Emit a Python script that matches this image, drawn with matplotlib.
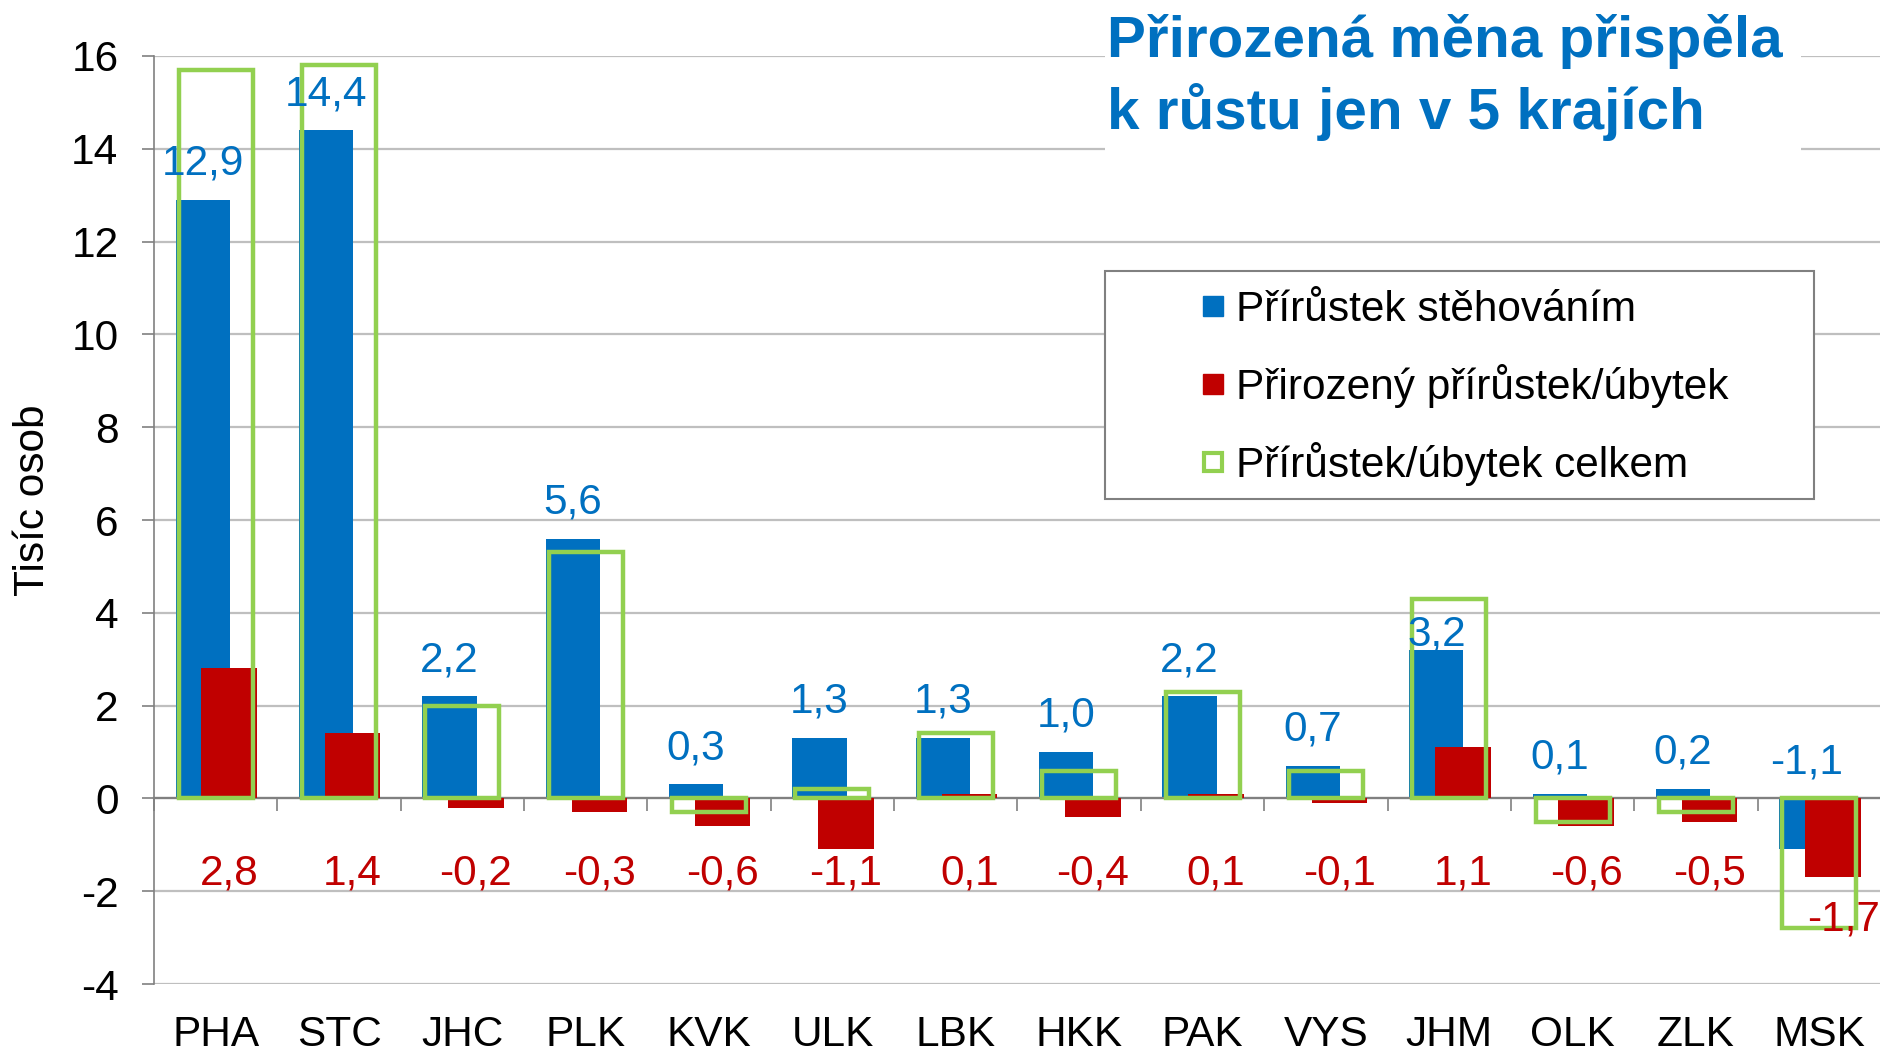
import matplotlib
matplotlib.use("Agg")
import matplotlib.pyplot as plt
from matplotlib.patches import Rectangle
from matplotlib.lines import Line2D
import numpy as np

plt.rcParams['font.family'] = ['Liberation Sans', 'DejaVu Sans']
plt.rcParams['axes.unicode_minus'] = False

# data (thousands of persons)
regions = ['PHA', 'STC', 'JHC', 'PLK', 'KVK', 'ULK', 'LBK', 'HKK', 'PAK', 'VYS', 'JHM', 'OLK', 'ZLK', 'MSK']
migration = [12.9, 14.4, 2.2, 5.6, 0.3, 1.3, 1.3, 1.0, 2.2, 0.7, 3.2, 0.1, 0.2, -1.1]
natural = [2.8, 1.4, -0.2, -0.3, -0.6, -1.1, 0.1, -0.4, 0.1, -0.1, 1.1, -0.6, -0.5, -1.7]
total = [15.7, 15.8, 2.0, 5.3, -0.3, 0.2, 1.4, 0.6, 2.3, 0.6, 4.3, -0.5, -0.3, -2.8]
series_names = ['Přírůstek stěhováním', 'Přirozený přírůstek/úbytek', 'Přírůstek/úbytek celkem']

BLUE = '#0070C0'
RED = '#C00000'
GREEN = '#92D050'
GRID = '#BFBFBF'
AXIS = '#808080'
FS = 30.5

W, H = 1881, 1052
fig = plt.figure(figsize=(W / 100, H / 100), dpi=100)
ax = fig.add_axes([154 / W, (H - 984) / H, (W - 154) / W, (984 - 56) / H])

x = np.arange(len(regions))
ax.bar(x - 0.105, migration, width=0.44, color=BLUE, zorder=2)
ax.bar(x + 0.11, natural, width=0.45, color=RED, zorder=3)
ax.bar(x, total, width=0.6, fill=False, edgecolor=GREEN, linewidth=3.2, zorder=4)

ax.set_xlim(-0.5, len(regions) - 0.5)
ax.set_ylim(-4, 16)
ax.set_yticks(range(-4, 17, 2))
ax.yaxis.grid(True, color=GRID, linewidth=1.6)
ax.set_axisbelow(True)

for s in ['top', 'right']:
    ax.spines[s].set_visible(False)
ax.spines['bottom'].set_position(('data', 0))
ax.spines['bottom'].set_color(AXIS)
ax.spines['bottom'].set_linewidth(1.6)
ax.spines['left'].set_color(AXIS)
ax.spines['left'].set_linewidth(1.2)

ax.set_xticks(np.arange(-0.5, len(regions), 1))
ax.tick_params(axis='x', length=9.5, width=1.2, color=AXIS, labelbottom=False)
ax.tick_params(axis='y', length=8.6, width=1.2, color=AXIS, pad=17, labelsize=FS)

for i, name in enumerate(regions):
    ax.text(i, -5.1, name, ha='center', va='center', fontsize=FS, clip_on=False)

# data labels
fmt = lambda v: f"{v:.1f}".replace('.', ',')
for i, v in enumerate(migration):
    y = max(v, 0) + 0.78
    if regions[i] == 'JHM':
        y = v + 0.33
    ax.text(i - 0.105, y, fmt(v), ha='center', va='center', fontsize=FS, color=BLUE, zorder=5)
for i, v in enumerate(natural):
    y = -2.6 if regions[i] == 'MSK' else -1.62
    dx = 0.2 if regions[i] == 'MSK' else 0.11
    ax.text(i + dx, y, fmt(v), ha='center', va='center', fontsize=FS, color=RED,
            zorder=5, clip_on=False)

fig.text(33 / W, 1 - 500 / H, 'Tisíc osob', rotation=90, ha='center', va='center', fontsize=FS)

# title on white patch
fig.add_artist(Rectangle((1105 / W, 1 - 200 / H), (1801 - 1105) / W, 200 / H,
                         transform=fig.transFigure, facecolor='white', edgecolor='none', zorder=1))
fig.text(1107 / W, 1 - 14 / H, 'Přirozená měna přispěla\nk růstu jen v 5 krajích',
         ha='left', va='top', fontsize=42, fontweight='bold', color=BLUE,
         linespacing=1.3, zorder=3)

# legend
fig.add_artist(Rectangle((1105 / W, 1 - 499 / H), (1814 - 1105) / W, (499 - 271) / H,
                         transform=fig.transFigure, facecolor='white', edgecolor=AXIS,
                         linewidth=1.5, zorder=1))
handles = [
    Line2D([], [], marker='s', ls='none', markersize=15, color=BLUE),
    Line2D([], [], marker='s', ls='none', markersize=15, color=RED),
    Line2D([], [], marker='s', ls='none', markersize=13, markerfacecolor='white',
           markeredgecolor=GREEN, markeredgewidth=3),
]
fig.legend(handles, series_names, loc='upper left', bbox_to_anchor=(1196 / W, 1 - 290 / H),
           frameon=False, fontsize=FS, borderaxespad=0, borderpad=0,
           handlelength=0.8, handletextpad=0.15, labelspacing=0.8)

fig.savefig('out.png', dpi=100)
